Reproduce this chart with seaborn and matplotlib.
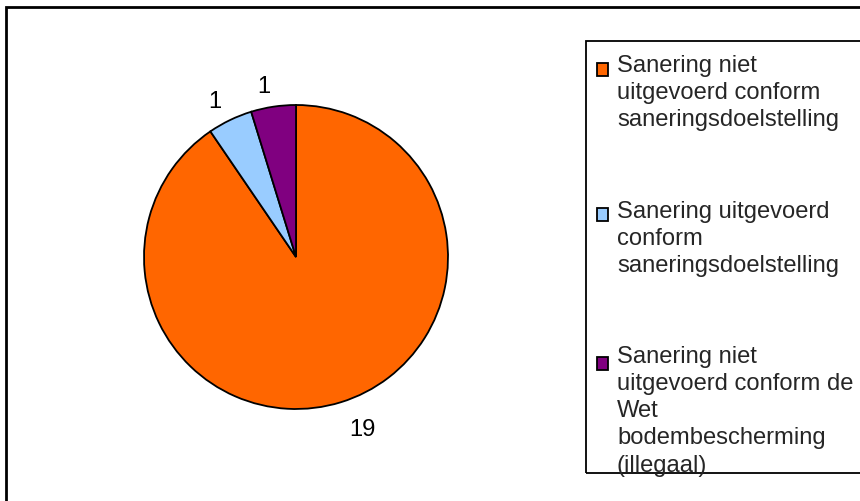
import seaborn as sns
import matplotlib.pyplot as plt
from matplotlib.patches import Rectangle
from matplotlib.legend_handler import HandlerPatch

# data
categories = [
    "Sanering niet\nuitgevoerd conform\nsaneringsdoelstelling",
    "Sanering uitgevoerd\nconform\nsaneringsdoelstelling",
    "Sanering niet\nuitgevoerd conform de\nWet\nbodembescherming\n(illegaal)",
]
counts = [19, 1, 1]
colors = ["#FF6600", "#99CCFF", "#800080"]

sns.set_theme(style="white")
plt.rcParams["font.family"] = ["Liberation Sans", "DejaVu Sans"]

W, H = 860, 501
fs = 17.1
linesp = 1.30

fig = plt.figure(figsize=(W / 100, H / 100), dpi=100)
fig.patch.set_facecolor("white")

# outer chart frame (right and bottom edges run off the image)
fig.patches.append(Rectangle((6 / W, -0.1), 1.2, 1.1 - 7 / H, transform=fig.transFigure,
                             fill=False, edgecolor="black", linewidth=2, zorder=0))
# legend box, its right edge runs off the image too
fig.patches.append(Rectangle((586 / W, (H - 473) / H), 1.0, (473 - 41) / H,
                             transform=fig.transFigure, fill=False,
                             edgecolor="black", linewidth=1.3, zorder=0))

# pie: center (296, 257) px, radius 152 px
cx, cy, r = 296, 257, 152
ax = fig.add_axes([(cx - r) / W, (H - cy - r) / H, 2 * r / W, 2 * r / H])
base_dist = 1.16
wedges, texts = ax.pie(counts, labels=[str(c) for c in counts], colors=colors,
                       startangle=90, counterclock=False, labeldistance=base_dist,
                       wedgeprops=dict(edgecolor="black", linewidth=1.3),
                       textprops=dict(fontsize=fs, color="black"))
# Excel-like label offsets from the rim
label_dist = [1.19, 1.13, 1.13]
for t, d in zip(texts, label_dist):
    x, y = t.get_position()
    t.set_position((x / base_dist * d, y / base_dist * d))
ax.set_xlim(-1, 1)
ax.set_ylim(-1, 1)
ax.set_aspect("equal")
ax.axis("off")

for w, lab in zip(wedges, categories):
    w.set_label(lab)


def top_square(legend, orig_handle, xdescent, ydescent, width, height, fontsize):
    # align the swatch with the first line of a multi-line label
    n = orig_handle.get_label().count("\n")
    shift = n / 2 * linesp * 0.78 * fontsize
    return Rectangle((-xdescent, -ydescent + shift), width, height,
                     edgecolor="black", linewidth=1.3)


leg = fig.legend(wedges, categories, loc="upper left",
                 bbox_to_anchor=(583 / W, 1 - 41 / H), fontsize=fs,
                 frameon=False,
                 handlelength=0.46, handleheight=0.46, handletextpad=0.38,
                 labelspacing=2.92, borderpad=0.59, borderaxespad=0,
                 handler_map={w: HandlerPatch(patch_func=top_square) for w in wedges})
for t in leg.get_texts():
    t.set_linespacing(linesp)

fig.savefig("out.png", dpi=100, facecolor="white")
